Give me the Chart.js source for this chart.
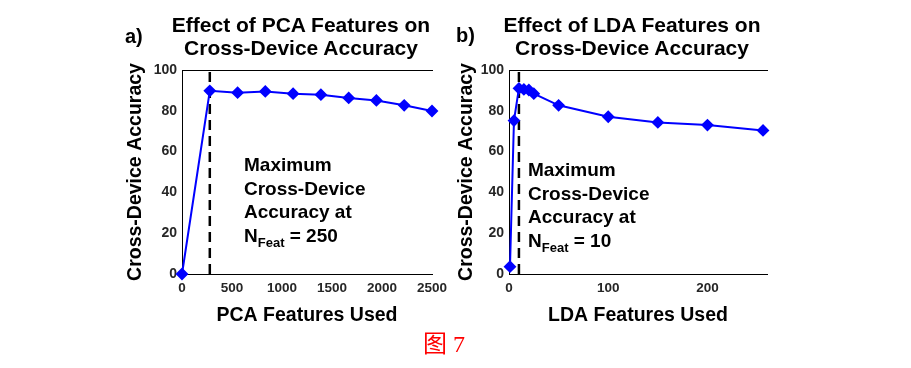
<!DOCTYPE html>
<html>
<head>
<meta charset="utf-8">
<script src="https://cdn.jsdelivr.net/npm/chart.js@4.4.1/dist/chart.umd.min.js"></script>
<style>
  body { margin: 0; background: #fff; width: 911px; height: 368px; overflow: hidden; position: relative;
         font-family: "Liberation Sans", Arial, sans-serif; }
  canvas { position: absolute; top: 0; }
  .txt { position: absolute; font-weight: bold; color: #000; white-space: nowrap; }
  .title { font-size: 21px; line-height: 23px; text-align: center; width: 320px; }
  .tag { font-size: 20px; line-height: 23px; }
  .note { font-size: 19px; line-height: 23.5px; }
  .note sub { font-size: 13px; position: relative; top: 5px; vertical-align: baseline; }
  .caption { font-family: "Liberation Serif", "Noto Sans CJK SC", serif; font-weight: normal;
             color: #ff0000; font-size: 24px; line-height: 28px; }
</style>
</head>
<body>
<canvas id="pcaChart" width="455" height="368" style="left:0"></canvas>
<canvas id="ldaChart" width="456" height="368" style="left:455px"></canvas>

<div class="txt tag" style="left:125px;top:25px">a)</div>
<div class="txt title" style="left:141px;top:13px">Effect of PCA Features on<br>Cross-Device Accuracy</div>
<div class="txt tag" style="left:456px;top:24px">b)</div>
<div class="txt title" style="left:472px;top:13px">Effect of LDA Features on<br>Cross-Device Accuracy</div>

<div class="txt note" style="left:244px;top:153px">Maximum<br>Cross-Device<br>Accuracy at<br>N<sub>Feat</sub> = 250</div>
<div class="txt note" style="left:528px;top:158px">Maximum<br>Cross-Device<br>Accuracy at<br>N<sub>Feat</sub> = 10</div>

<div class="txt caption" style="left:423px;top:330px">图 7</div>

<script>
const accTicks = [0, 20, 40, 60, 80, 100];

const pcaFeatures = [0, 278, 556, 833, 1111, 1389, 1667, 1944, 2222, 2500];
const pcaAccuracy = [0, 89.8, 88.9, 89.5, 88.4, 87.9, 86.3, 85.1, 82.7, 79.9];
const pcaBest = 278;
const pcaXTicks = [0, 500, 1000, 1500, 2000, 2500];

const ldaFeatures = [1, 5, 10, 15, 20, 25, 50, 100, 150, 200, 256];
const ldaAccuracy = [3.6, 75.2, 91.0, 90.5, 90.2, 88.4, 82.7, 77.1, 74.3, 73.0, 70.4];
const ldaBest = 10;
const ldaXTicks = [0, 100, 200];

const fontFamily = '"Liberation Sans", Arial, sans-serif';

function makeChart(id, xs, ys, best, xMax, xTicks, xTitle, padding, yWidth, yTitlePad) {
    const points = xs.map((x, i) => ({ x: x, y: ys[i] }));
    const cutLine = [{ x: best, y: 0 }, { x: best, y: 100 }];

    return new Chart(document.getElementById(id), {
        type: 'line',
        data: {
            datasets: [{
                data: points,
                borderColor: '#0000ff',
                backgroundColor: '#0000ff',
                borderWidth: 2,
                pointStyle: 'rectRot',
                pointRadius: 5,
                tension: 0,
                clip: false
            }, {
                data: cutLine,
                borderColor: '#000',
                borderWidth: 2.5,
                borderDash: [10, 6],
                pointRadius: 0
            }]
        },
        options: {
            responsive: false,
            animation: false,
            devicePixelRatio: 1,
            layout: { padding: padding },
            plugins: { legend: { display: false }, tooltip: { enabled: false } },
            scales: {
                x: {
                    type: 'linear',
                    position: 'bottom',
                    min: 0,
                    max: xMax,
                    grid: { display: false, drawTicks: false },
                    border: { display: true, color: '#000', width: 1 },
                    afterBuildTicks: s => { s.ticks = xTicks.map(v => ({ value: v })); },
                    ticks: { color: '#262626', padding: 6, maxRotation: 0,
                             callback: v => String(v),
                             font: { family: fontFamily, size: 13.5, weight: 'bold' } },
                    title: { display: true, text: xTitle, color: '#000', padding: { top: 4, bottom: 4 },
                             font: { family: fontFamily, size: 19.5, weight: 'bold' } },
                    afterFit: s => { s.height = 57; }
                },
                xTop: {
                    type: 'linear',
                    position: 'top',
                    grid: { display: false, drawTicks: false },
                    border: { display: true, color: '#000', width: 1 },
                    ticks: { display: false },
                    afterFit: s => { s.height = 0; }
                },
                y: {
                    min: 0,
                    max: 100,
                    grid: { display: false, drawTicks: false },
                    border: { display: true, color: '#000', width: 1 },
                    afterBuildTicks: s => { s.ticks = accTicks.map(v => ({ value: v })); },
                    ticks: { color: '#262626', padding: 5,
                             callback: v => String(v),
                             font: { family: fontFamily, size: 14, weight: 'bold' } },
                    title: { display: true, text: 'Cross-Device Accuracy', color: '#000',
                             padding: { top: yTitlePad, bottom: 4 },
                             font: { family: fontFamily, size: 19.5, weight: 'bold' } },
                    afterFit: s => { s.width = yWidth; }
                }
            }
        }
    });
}

makeChart('pcaChart', pcaFeatures, pcaAccuracy, pcaBest, 2500, pcaXTicks, 'PCA Features Used',
    { left: 120, right: 23, top: 70, bottom: 37 }, 62, 4);
makeChart('ldaChart', ldaFeatures, ldaAccuracy, ldaBest, 260, ldaXTicks, 'LDA Features Used',
    { left: 0, right: 144, top: 70, bottom: 37 }, 54, 0);
</script>
</body>
</html>
